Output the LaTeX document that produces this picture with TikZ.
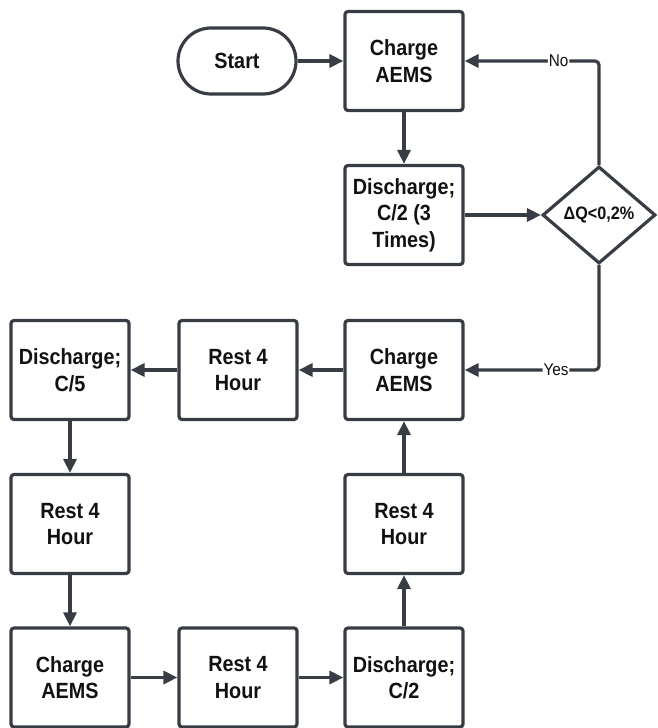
\documentclass[tikz,border=0pt]{standalone}
\usepackage{fontspec}
\setmainfont{Liberation Sans}[FakeStretch=0.9]
\usetikzlibrary{arrows.meta,shapes.geometric}
\definecolor{ln}{HTML}{383D45}
\definecolor{tx}{HTML}{111111}
\tikzset{
  box/.style={draw=ln, line width=3.2pt, rounded corners=3pt, minimum width=118pt, minimum height=99pt, inner sep=0pt, align=center, text=tx, font=\bfseries\fontsize{22}{26.5}\selectfont},
  term/.style={draw=ln, line width=3.2pt, rounded corners=33pt, minimum width=118pt, minimum height=66pt, inner sep=0pt, text=tx, font=\bfseries\fontsize{22}{26}\selectfont},
  dec/.style={draw=ln, line width=3.2pt, diamond, aspect=1.16, minimum width=113pt, minimum height=97pt, inner sep=0pt, text=tx, font=\bfseries\fontsize{18}{20}\selectfont},
  conn/.style={draw=ln, line width=3.2pt, -{Triangle[length=14pt,width=13pt]}},
  lbl/.style={fill=white, inner sep=1pt, text=tx, font=\fontsize{17}{19}\selectfont}
}
\begin{document}
\begin{tikzpicture}[x=1pt,y=-1pt]
\useasboundingbox (0,0) rectangle (657,728);
\node[term] (start) at (237,61) {Start};
\node[box] (c1) at (404,61) {Charge\\AEMS};
\node[box] (d1) at (404,215) {Discharge;\\C/2 (3\\Times)};
\node[dec] (dq) at (599,215) {ΔQ<0,2\%};
\node[box] (c2) at (404,370) {Charge\\AEMS};
\node[box] (r1) at (238,370) {Rest 4\\Hour};
\node[box] (d2) at (70,370) {Discharge;\\C/5};
\node[box] (r2) at (70,524) {Rest 4\\Hour};
\node[box] (c3) at (70,677.5) {Charge\\AEMS};
\node[box] (r3) at (238,677.5) {Rest 4\\Hour};
\node[box] (d3) at (404,677.5) {Discharge;\\C/2};
\node[box] (r4) at (404,524) {Rest 4\\Hour};
\draw[conn] (start) -- (c1);
\draw[conn] (c1) -- (d1);
\draw[conn] (d1) -- (dq);
\draw[conn, rounded corners=4pt] (dq.north) |- node[lbl, pos=0.65] {No} (c1.east);
\draw[conn, rounded corners=4pt] (dq.south) |- node[lbl, pos=0.66] {Yes} (c2.east);
\draw[conn] (c2) -- (r1);
\draw[conn] (r1) -- (d2);
\draw[conn] (d2) -- (r2);
\draw[conn] (r2) -- (c3);
\draw[conn] (c3) -- (r3);
\draw[conn] (r3) -- (d3);
\draw[conn] (d3) -- (r4);
\draw[conn] (r4) -- (c2);
\end{tikzpicture}
\end{document}
